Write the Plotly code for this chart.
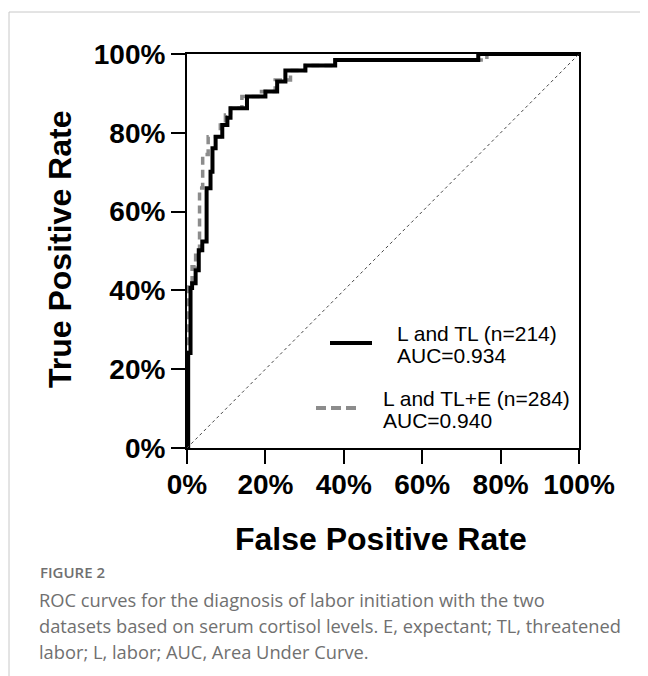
import plotly.graph_objects as go

# ---- data ----
fpr_l_tl = [0, 0.003, 0.009, 0.013, 0.022, 0.030, 0.039, 0.050, 0.060, 0.065, 0.073,
            0.090, 0.103, 0.111, 0.153, 0.200, 0.230, 0.251, 0.302, 0.378, 0.743, 1.0]
tpr_l_tl = [0, 0.241, 0.406, 0.418, 0.451, 0.502, 0.524, 0.659, 0.701, 0.761, 0.790,
            0.820, 0.838, 0.862, 0.892, 0.905, 0.930, 0.958, 0.971, 0.985, 1.0, 1.0]

fpr_l_tle = [0, 0.003, 0.013, 0.022, 0.032, 0.040, 0.054, 0.085, 0.098, 0.111, 0.140,
             0.190, 0.225, 0.264, 0.302, 0.378, 0.765, 1.0]
tpr_l_tle = [0, 0.42, 0.46, 0.50, 0.66, 0.745, 0.79, 0.82, 0.845, 0.862, 0.892,
             0.905, 0.934, 0.958, 0.971, 0.985, 1.0, 1.0]

tick_vals = [0, 0.2, 0.4, 0.6, 0.8, 1.0]
tick_text = ["0%", "20%", "40%", "60%", "80%", "100%"]

legend_1 = ["L and TL (n=214)", "AUC=0.934"]
legend_2 = ["L and TL+E (n=284)", "AUC=0.940"]
caption_head = "FIGURE 2"
caption_lines = [
    "ROC curves for the diagnosis of labor initiation with the two",
    "datasets based on serum cortisol levels. E, expectant; TL, threatened",
    "labor; L, labor; AUC, Area Under Curve.",
]

# ---- layout geometry (pixels; page body adds an 8px offset) ----
OFF = 8
W, H = 640, 668
L, T = 187 - OFF, 54 - OFF
R = W - (579 - OFF)
B = H - (448 - OFF)
PW, PH = W - L - R, H - T - B


def px(x):
    return (x - OFF - L) / PW


def py(y):
    return (H - B - (y - OFF)) / PH


fig = go.Figure()

fig.add_trace(go.Scatter(
    x=fpr_l_tle, y=tpr_l_tle, mode="lines", line_shape="hv",
    line=dict(color="rgb(140,140,140)", width=3.5, dash="8px,5px"),
    cliponaxis=False, showlegend=False, hoverinfo="skip"))
fig.add_trace(go.Scatter(
    x=fpr_l_tl, y=tpr_l_tl, mode="lines", line_shape="hv",
    line=dict(color="black", width=4),
    cliponaxis=False, showlegend=False, hoverinfo="skip"))

# diagonal reference
fig.add_shape(type="line", xref="x", yref="y", x0=0, y0=0, x1=1, y1=1,
              line=dict(color="#444", width=1, dash="dot"))

# legend samples
fig.add_shape(type="line", xref="paper", yref="paper",
              x0=px(330), x1=px(372), y0=py(343), y1=py(343),
              line=dict(color="black", width=4))
fig.add_shape(type="line", xref="paper", yref="paper",
              x0=px(316), x1=px(358), y0=py(408), y1=py(408),
              line=dict(color="rgb(140,140,140)", width=4, dash="10px,5px"))

# outer figure frame
frame_col = "#c8c8c8"
fig.add_shape(type="line", xref="paper", yref="paper",
              x0=px(9), x1=px(660), y0=py(12), y1=py(12),
              line=dict(color=frame_col, width=1))
fig.add_shape(type="line", xref="paper", yref="paper",
              x0=px(9), x1=px(9), y0=py(12), y1=py(690),
              line=dict(color=frame_col, width=1))

ann = []
leg_font = dict(family="Liberation Sans, Arial", size=21, color="black")
for i, t in enumerate(legend_1):
    ann.append(dict(text=t, x=px(395), y=py(333 + 22 * i), xanchor="left",
                    yanchor="middle", font=leg_font))
for i, t in enumerate(legend_2):
    ann.append(dict(text=t, x=px(381), y=py(398 + 22 * i), xanchor="left",
                    yanchor="middle", font=leg_font))

title_font = dict(family="Liberation Sans, Arial", size=32, color="black", weight="bold")
ann.append(dict(text="False Positive Rate", x=px(381), y=py(539), xanchor="center",
                yanchor="middle", font=title_font))
ann.append(dict(text="True Positive Rate", x=px(60), y=py(250), xanchor="center",
                yanchor="middle", textangle=-90, font=title_font))

cap_col = "#707070"
ann.append(dict(text=caption_head, x=px(38), y=py(572), xanchor="left", yanchor="middle",
                font=dict(family="Open Sans", size=15, color=cap_col, weight=600)))
for i, t in enumerate(caption_lines):
    ann.append(dict(text=t, x=px(37), y=py(599 + 26 * i), xanchor="left", yanchor="middle",
                    font=dict(family="Open Sans", size=18.3, color=cap_col)))

for a in ann:
    a.update(xref="paper", yref="paper", showarrow=False)

tick_font = dict(family="Liberation Sans, Arial", size=28, color="black", weight="bold")
axis_common = dict(range=[0, 1], tickvals=tick_vals, ticktext=tick_text,
                   ticks="outside", ticklen=14, tickwidth=2, tickcolor="black",
                   showline=True, linewidth=2, linecolor="black", mirror=True,
                   showgrid=False, zeroline=False, tickfont=tick_font, fixedrange=True)

fig.update_layout(
    width=W, height=H,
    margin=dict(l=L, r=R, t=T, b=B),
    paper_bgcolor="white", plot_bgcolor="white",
    xaxis=dict(axis_common, ticklabelstandoff=-4),
    yaxis=axis_common,
    annotations=ann,
    showlegend=False,
)

fig.write_html("out.html")
